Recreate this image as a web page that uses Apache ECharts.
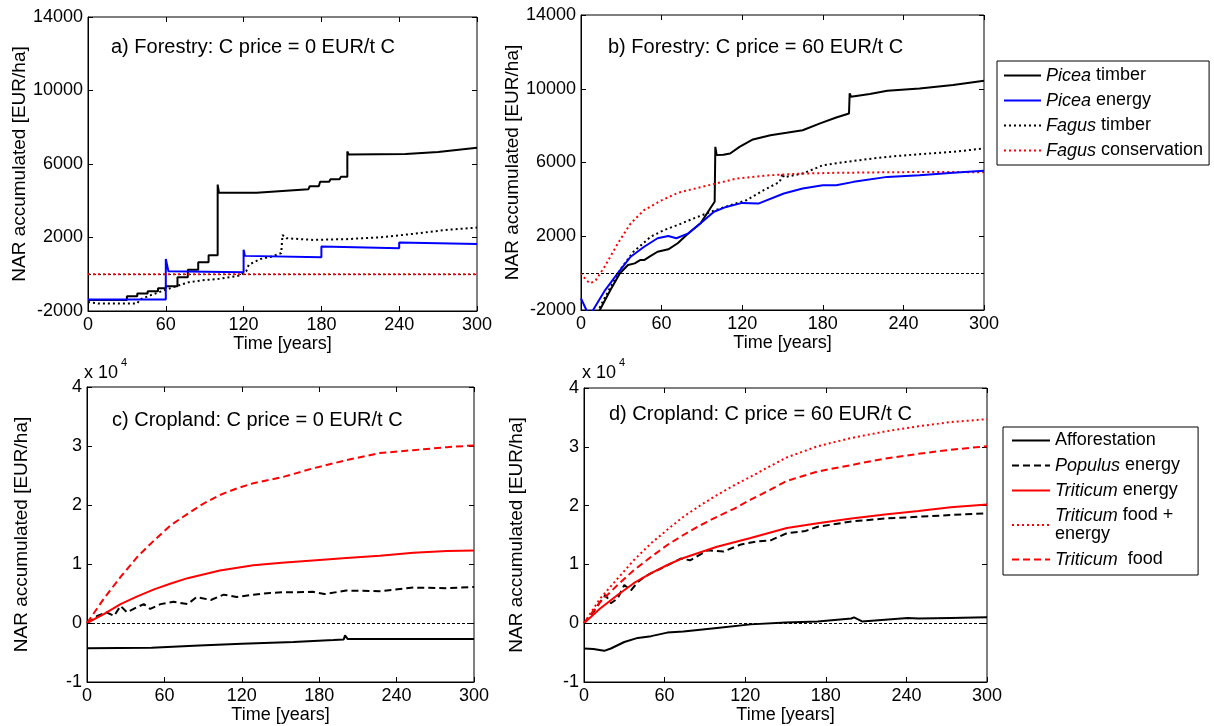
<!DOCTYPE html>
<html>
<head>
<meta charset="utf-8">
<script src="https://cdn.jsdelivr.net/npm/echarts@6/dist/echarts.min.js"></script>
<style>
html,body{margin:0;padding:0;background:#fff;}
#chart{width:1214px;height:726px;}
</style>
</head>
<body>
<div id="chart"></div>
<script>
// ---------- Data: [time (years), NAR accumulated (EUR/ha)] ----------
// Panel a) Forestry, C price = 0
const aPiceaTimber = [[0,-1400],[30,-1400],[30,-1200],[38,-1200],[38,-1050],[46,-1050],[46,-920],[54,-920],[54,-760],[60,-760],[60,-650],[69,-650],[69,-160],[77,-160],[77,250],[85,250],[85,650],[93,650],[93,1030],[100,1030],[100,4880],[101,4430],[130,4430],[150,4530],[170,4630],[171,4790],[178,4790],[179,5030],[186,5030],[187,5170],[194,5170],[195,5300],[200,5300],[200,6680],[201,6520],[245,6540],[270,6650],[300,6880]];
const aPiceaEnergy = [[0,-1370],[60,-1370],[60,830],[61,500],[62,160],[120,110],[120,1330],[121,1000],[122,920],[180,920],[180,1510],[181,1420],[240,1420],[240,1730],[241,1640],[300,1640]];
const aFagusTimber = [[0,-1510],[8,-1590],[38,-1590],[40,-1370],[48,-1150],[57,-920],[68,-650],[78,-430],[88,-330],[101,-250],[117,-70],[122,160],[124,520],[133,830],[142,970],[149,1150],[150,2140],[153,1960],[173,1870],[199,1910],[225,2010],[251,2200],[276,2410],[300,2540]];
const aFagusCons = [[0,0],[300,0]];

// Panel b) Forestry, C price = 60
const bPiceaTimber = [[0,-3200],[10,-2600],[14,-2000],[22,-900],[29,-10],[35,440],[40,530],[44,710],[47,710],[51,890],[57,1160],[65,1290],[72,1620],[80,2160],[89,2700],[97,3600],[99.5,3870],[100,6850],[101,6400],[106,6420],[111,6490],[118,6850],[128,7250],[141,7480],[153,7610],[165,7750],[178,8120],[190,8440],[199.5,8660],[200,9750],[201,9570],[215,9710],[228,9890],[252,10020],[277,10200],[300,10430]];
const bPiceaEnergy = [[0,-1370],[4,-2000],[6,-2300],[9,-2000],[18,-920],[28,60],[37,890],[47,1430],[57,1890],[65,2010],[71,1890],[80,2160],[89,2700],[99,3330],[108,3590],[120,3810],[132,3770],[151,4320],[165,4590],[180,4770],[190,4770],[203,4950],[228,5220],[252,5310],[277,5440],[300,5550]];
const bFagusTimber = [[0,-3500],[8,-2600],[13,-2000],[22,-740],[29,170],[39,1160],[52,1980],[62,2340],[72,2610],[84,2970],[99,3390],[111,3680],[123,3950],[136,4500],[148,4950],[150,5400],[151,5200],[165,5400],[180,5850],[203,6090],[228,6310],[252,6450],[277,6580],[300,6760]];
const bFagusCons = [[0,0],[4,-400],[7,-550],[11,-380],[17.6,350],[27.5,1620],[37,2700],[47,3420],[60,3950],[72,4350],[80,4500],[97,4800],[116,5130],[141,5310],[165,5400],[190,5440],[228,5470],[265,5490],[300,5470]];

// Panel c) Cropland, C price = 0
const cAfforestation = [[0,-4300],[50,-4200],[87,-3800],[120,-3500],[160,-3200],[191,-2900],[199,-2800],[200,-2100],[202,-2700],[300,-2700]];
const cPopulus = [[0,0],[8,1200],[15,1800],[21,1200],[26,2900],[31,1800],[39,2700],[44,3200],[49,2400],[57,3200],[67,3600],[78,3200],[85,4400],[96,3900],[106,4800],[116,4400],[129,4800],[142,5100],[151,5200],[163,5200],[175,5300],[184,4900],[201,5500],[227,5400],[253,6000],[279,5900],[300,6100]];
const cTritEnergy = [[0,0],[13,1500],[26,3200],[39,4500],[52,5700],[65,6700],[78,7600],[103,8900],[129,9800],[151,10200],[175,10600],[201,11000],[227,11400],[253,11900],[279,12200],[300,12300]];
const cTritFood = [[0,0],[13,4100],[26,7800],[39,11200],[52,14000],[65,16600],[78,18500],[90,20200],[103,21700],[116,22800],[129,23700],[151,24700],[175,26200],[201,27600],[227,28800],[253,29300],[279,29800],[300,30100]];

// Panel d) Cropland, C price = 60
const dAfforestation = [[0,-4300],[7,-4400],[15,-4700],[20,-4300],[30,-3200],[40,-2500],[50,-2200],[62,-1600],[74,-1400],[99,-800],[124,-200],[150,100],[174,300],[199,800],[201,1000],[207,300],[224,600],[241,900],[249,800],[273,900],[300,1000]];
const dPopulus = [[0,0],[7,1900],[12,3600],[16,4800],[20,3400],[25,4200],[30,6500],[35,5600],[40,7000],[45,7900],[50,8500],[60,9600],[72,11000],[79,10700],[92,12400],[104,12200],[117,13400],[129,13900],[139,14100],[151,15300],[165,15700],[174,16400],[199,17300],[224,17800],[249,18100],[273,18400],[300,18700]];
const dTritEnergy = [[0,0],[12,2500],[25,4800],[37,6800],[50,8500],[62,9900],[74,11100],[99,13000],[124,14500],[151,16200],[174,17000],[199,17800],[224,18500],[249,19100],[273,19700],[300,20200]];
const dTritFoodEnergy = [[0,0],[12,4200],[25,7600],[37,10700],[50,13600],[62,15900],[74,18100],[87,20100],[99,21800],[112,23500],[124,24900],[136,26400],[151,28200],[174,30100],[199,31500],[224,32600],[249,33500],[273,34200],[300,34700]];
const dTritFood = [[0,0],[12,3600],[25,6500],[37,9000],[50,11300],[62,13300],[74,15000],[87,16700],[99,18100],[112,19500],[124,21000],[136,22400],[151,24200],[174,25800],[199,26900],[224,28000],[249,28800],[273,29500],[300,30100]];

// Labels
const panelTitles = ['a) Forestry: C price = 0 EUR/t C','b) Forestry: C price = 60 EUR/t C','c) Cropland: C price = 0 EUR/t C','d) Cropland: C price = 60 EUR/t C'];
const forestryLegend = ['Picea timber','Picea energy','Fagus timber','Fagus conservation'];
const croplandLegend = ['Afforestation','Populus energy','Triticum energy','Triticum food + energy','Triticum food'];
const xLabel = 'Time [years]';
const yLabel = 'NAR accumulated [EUR/ha]';

// ---------- Chart ----------
const FONT = 'Liberation Sans, Arial, sans-serif';
const chart = echarts.init(document.getElementById('chart'), null, {renderer:'canvas'});

const grids = [
  {left:88, top:17, width:389, height:294},
  {left:581, top:15, width:403, height:295},
  {left:87, top:387, width:387, height:295},
  {left:584, top:388, width:403, height:294}
];
const yRanges = [
  {min:-2000, max:14000, interval:4000, fmt: v => String(v)},
  {min:-2000, max:14000, interval:4000, fmt: v => String(v)},
  {min:-10000, max:40000, interval:10000, fmt: v => String(v/10000)},
  {min:-10000, max:40000, interval:10000, fmt: v => String(v/10000)}
];
const yNameGaps = [56, 54, 56, 58];

const xAxes = [], yAxes = [];
grids.forEach((g, i) => {
  xAxes.push({
    gridIndex:i, type:'value', min:0, max:300, interval:60, position:'bottom',
    axisLine:{show:true, onZero:false, lineStyle:{color:'#000', width:1}},
    axisTick:{inside:true, length:5, lineStyle:{color:'#000'}},
    axisLabel:{margin:5, fontSize:18, color:'#000', fontFamily:FONT},
    splitLine:{show:false},
    name:xLabel, nameLocation:'middle', nameGap:24,
    nameTextStyle:{fontSize:18, color:'#000', fontFamily:FONT}
  });
  xAxes.push({
    gridIndex:i, type:'value', min:0, max:300, interval:60, position:'top',
    axisLine:{show:false, onZero:false},
    axisTick:{inside:true, length:5, lineStyle:{color:'#000'}},
    axisLabel:{show:false}, splitLine:{show:false}
  });
  const r = yRanges[i];
  yAxes.push({
    gridIndex:i, type:'value', min:r.min, max:r.max, interval:r.interval, position:'left',
    axisLine:{show:true, onZero:false, lineStyle:{color:'#000', width:1}},
    axisTick:{inside:true, length:5, lineStyle:{color:'#000'}},
    axisLabel:{margin:5, fontSize:18, color:'#000', fontFamily:FONT, formatter:r.fmt},
    splitLine:{show:false},
    name:yLabel, nameLocation:'middle', nameGap:yNameGaps[i],
    nameTextStyle:{fontSize:19, color:'#000', fontFamily:FONT}
  });
  yAxes.push({
    gridIndex:i, type:'value', min:r.min, max:r.max, interval:r.interval, position:'right',
    axisLine:{show:false, onZero:false},
    axisTick:{inside:true, length:5, lineStyle:{color:'#000'}},
    axisLabel:{show:false}, splitLine:{show:false}
  });
});

const DOT = [2,3];
const DASH = [7,4];
const zeroLine = {
  silent:true, symbol:['none','none'], label:{show:false},
  lineStyle:{color:'#000', width:1, type:[3,2]},
  data:[{yAxis:0}]
};

function line(name, panel, data, color, type, width, withZero, z){
  const s = {
    name, type:'line', xAxisIndex:2*panel, yAxisIndex:2*panel,
    data, symbol:'none', showSymbol:false, clip:true,
    lineStyle:{color, width: width || 2, type},
    itemStyle:{color},
    emphasis:{disabled:true}, z: z || 3
  };
  if (withZero) s.markLine = zeroLine;
  return s;
}

const series = [
  line('Picea timber',0,aPiceaTimber,'#000','solid',2,true),
  line('Fagus timber',0,aFagusTimber,'#000',DOT,2),
  line('Picea energy',0,aPiceaEnergy,'#0000ff','solid',2),
  line('Fagus conservation',0,aFagusCons,'#ff0000',DOT,2,false,5),

  line('Picea timber',1,bPiceaTimber,'#000','solid',2,true),
  line('Fagus timber',1,bFagusTimber,'#000',DOT,2),
  line('Fagus conservation',1,bFagusCons,'#ff0000',DOT,2),
  line('Picea energy',1,bPiceaEnergy,'#0000ff','solid',2),

  line('Afforestation',2,cAfforestation,'#000','solid',2,true),
  line('Populus energy',2,cPopulus,'#000',DASH,2),
  line('Triticum energy',2,cTritEnergy,'#ff0000','solid',2),
  line('Triticum food',2,cTritFood,'#ff0000',DASH,2),

  line('Afforestation',3,dAfforestation,'#000','solid',2,true),
  line('Populus energy',3,dPopulus,'#000',DASH,2),
  line('Triticum energy',3,dTritEnergy,'#ff0000','solid',2),
  line('Triticum food + energy',3,dTritFoodEnergy,'#ff0000',DOT,2),
  line('Triticum food',3,dTritFood,'#ff0000',DASH,2)
];

const italicWords = ['Picea','Fagus','Populus','Triticum'];
function legendFmt(name){
  let out = name;
  for (const w of italicWords){
    if (name.startsWith(w)) { out = '{i|' + w + '} ' + name.slice(w.length + 1); break; }
  }
  if (name === 'Triticum food + energy') out = '{i|Triticum} food +\nenergy';
  if (name === 'Triticum food') out = '{i|Triticum}  food';
  return out;
}
const legendText = {fontSize:18, color:'#000', fontFamily:FONT, lineHeight:19,
  rich:{i:{fontStyle:'italic', fontSize:18, color:'#000', fontFamily:FONT, lineHeight:19}}};
const hiddenSymbol = {color:'rgba(0,0,0,0)', borderColor:'rgba(0,0,0,0)', borderWidth:0, opacity:0};

const titles = panelTitles.map((t, i) => ({
  text:t, left:[106,603,107,604][i], top:[32,32,405,399][i],
  textStyle:{fontSize:20, fontWeight:'normal', color:'#000', fontFamily:FONT}
}));

chart.setOption({
  animation:false,
  backgroundColor:'#fff',
  title:titles,
  grid:grids.map(g => Object.assign({show:true, borderColor:'#000', borderWidth:1, backgroundColor:'transparent'}, g)),
  xAxis:xAxes,
  yAxis:yAxes,
  legend:[
    {data:forestryLegend, orient:'vertical', left:997, top:61, itemWidth:37, itemHeight:14, itemGap:6,
     padding:[5,6,5,6], borderColor:'#000', borderWidth:1, backgroundColor:'#fff',
     selectedMode:false, formatter:legendFmt, textStyle:legendText, itemStyle:hiddenSymbol},
    {data:croplandLegend, orient:'vertical', left:1003, top:427, itemWidth:38, itemHeight:14, itemGap:6,
     padding:[4,18,6,8], borderColor:'#000', borderWidth:1, backgroundColor:'#fff',
     selectedMode:false, formatter:legendFmt, textStyle:legendText, itemStyle:hiddenSymbol}
  ],
  graphic:[
    {type:'text', left:84, top:364, style:{text:'x 10', fontSize:18, fill:'#000', fontFamily:FONT}},
    {type:'text', left:121, top:357, style:{text:'4', fontSize:11, fill:'#000', fontFamily:FONT}},
    {type:'text', left:582, top:364, style:{text:'x 10', fontSize:18, fill:'#000', fontFamily:FONT}},
    {type:'text', left:619, top:357, style:{text:'4', fontSize:11, fill:'#000', fontFamily:FONT}}
  ],
  series
});
</script>
</body>
</html>
